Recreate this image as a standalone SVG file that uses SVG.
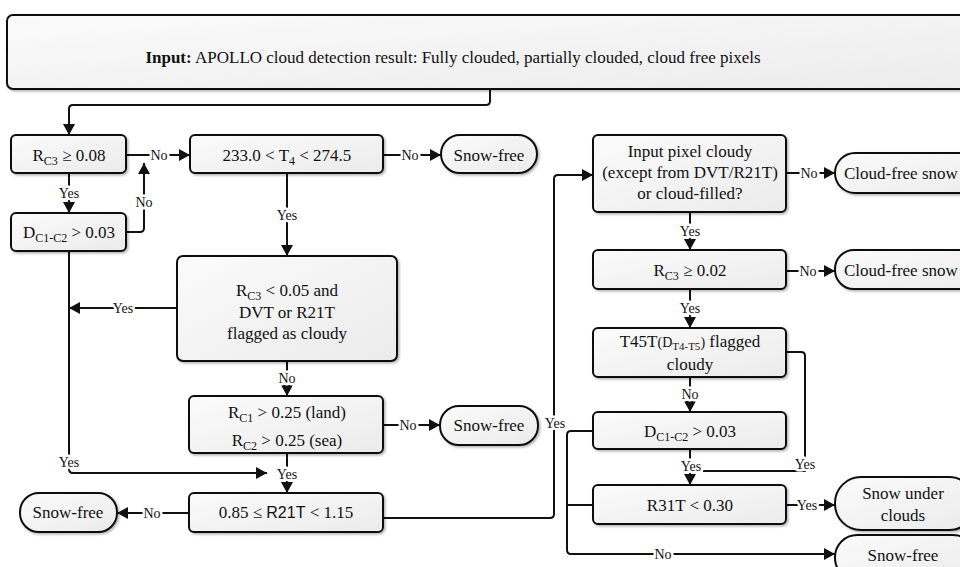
<svg xmlns="http://www.w3.org/2000/svg" width="960" height="567" viewBox="0 0 960 567">
<defs>
<linearGradient id="g" x1="0" y1="0" x2="1" y2="1">
<stop offset="0" stop-color="#fbfbfb"/>
<stop offset="1" stop-color="#ebebeb"/>
</linearGradient>
<filter id="sh" x="-5%" y="-5%" width="110%" height="120%">
<feDropShadow dx="1.5" dy="1.5" stdDeviation="1" flood-color="#000" flood-opacity="0.3"/>
</filter>
<marker id="ar" markerUnits="userSpaceOnUse" markerWidth="12" markerHeight="12" refX="11" refY="6" orient="auto">
<path d="M0,0 L11,6 L0,12 z" fill="#111"/>
</marker>
</defs>
<style>
.box{fill:url(#g);stroke:#111;stroke-width:2;filter:url(#sh)}
.t{font-family:"Liberation Serif","Times New Roman",serif;font-size:17px;fill:#111;text-anchor:middle}
.ts{text-anchor:start}
.sub{font-size:12px}
.sans{font-family:"Liberation Sans",Arial,sans-serif;font-size:16px}
.c{fill:none;stroke:#111;stroke-width:2}
.lbl{font-family:"Liberation Serif","Times New Roman",serif;font-size:14px;fill:#111;text-anchor:middle;dominant-baseline:central;stroke:#fff;stroke-width:5;paint-order:stroke;stroke-linejoin:round}
</style>
<rect width="960" height="567" fill="#fff"/>

<g id="connectors">
<path class="c" d="M490,89 V101 Q490,105 486,105 H73 Q69,105 69,109 V135" marker-end="url(#ar)"/>
<path class="c" d="M126,155 H190" marker-end="url(#ar)"/>
<path class="c" d="M69,173 V213" marker-end="url(#ar)"/>
<path class="c" d="M126,232 H140 Q144,232 144,228 V163" marker-end="url(#ar)"/>
<path class="c" d="M383,155 H441" marker-end="url(#ar)"/>
<path class="c" d="M287,173 V256" marker-end="url(#ar)"/>
<path class="c" d="M177,308 H69" marker-end="url(#ar)"/>
<path class="c" d="M69,251 V469 Q69,473 73,473 H267" marker-end="url(#ar)"/>
<path class="c" d="M287,361 V396" marker-end="url(#ar)"/>
<path class="c" d="M383,425 H440" marker-end="url(#ar)"/>
<path class="c" d="M287,453 V493" marker-end="url(#ar)"/>
<path class="c" d="M189,513 H117" marker-end="url(#ar)"/>
<path class="c" d="M383,518 H550 Q554,518 554,514 V179 Q554,175 558,175 H593" marker-end="url(#ar)"/>
<path class="c" d="M786,173 H835" marker-end="url(#ar)"/>
<path class="c" d="M690,212 V250" marker-end="url(#ar)"/>
<path class="c" d="M786,271 H835" marker-end="url(#ar)"/>
<path class="c" d="M690,289 V328" marker-end="url(#ar)"/>
<path class="c" d="M690,377 V412" marker-end="url(#ar)"/>
<path class="c" d="M786,352 H801 Q805,352 805,356 V471 H703"/>
<path class="c" d="M690,449 V485" marker-end="url(#ar)"/>
<path class="c" d="M593,431 H571 Q567,431 567,435 V550 Q567,554 571,554 H835" marker-end="url(#ar)"/>
<path class="c" d="M593,505 H567"/>
<path class="c" d="M786,505 H835" marker-end="url(#ar)"/>
<text class="lbl" x="159" y="155">No</text>
<text class="lbl" x="69" y="193">Yes</text>
<text class="lbl" x="144" y="202">No</text>
<text class="lbl" x="410" y="155">No</text>
<text class="lbl" x="287" y="215">Yes</text>
<text class="lbl" x="123" y="308">Yes</text>
<text class="lbl" x="69" y="462">Yes</text>
<text class="lbl" x="287" y="378">No</text>
<text class="lbl" x="408" y="425">No</text>
<text class="lbl" x="287" y="474">Yes</text>
<text class="lbl" x="152" y="513">No</text>
<text class="lbl" x="555" y="423">Yes</text>
<text class="lbl" x="809" y="173">No</text>
<text class="lbl" x="690" y="231">Yes</text>
<text class="lbl" x="808" y="271">No</text>
<text class="lbl" x="690" y="308">Yes</text>
<text class="lbl" x="690" y="394">No</text>
<text class="lbl" x="805" y="464">Yes</text>
<text class="lbl" x="691" y="466">Yes</text>
<text class="lbl" x="663" y="554">No</text>
<text class="lbl" x="807" y="505">Yes</text>
</g>

<g id="input">
<rect class="box" x="7" y="15" width="990" height="74" rx="6"/>
<text class="t" x="453" y="63"><tspan font-weight="bold">Input:</tspan>  APOLLO cloud detection result: Fully clouded, partially clouded, cloud free pixels</text>
</g>

<g id="n1">
<rect class="box" x="11" y="135" width="115" height="38" rx="5"/>
<text class="t" x="69" y="161">R<tspan class="sub" dy="4">C3</tspan><tspan dy="-4"> ≥ 0.08</tspan></text>
</g>
<g id="n2">
<rect class="box" x="11" y="213" width="115" height="38" rx="5"/>
<text class="t" x="69" y="238">D<tspan class="sub" dy="4">C1-C2</tspan><tspan dy="-4"> &gt; 0.03</tspan></text>
</g>
<g id="n3">
<rect class="box" x="190" y="135" width="193" height="38" rx="5"/>
<text class="t" x="287" y="161">233.0 &lt; T<tspan class="sub" dy="4">4</tspan><tspan dy="-4"> &lt; 274.5</tspan></text>
</g>
<g id="sf1">
<rect class="box" x="441" y="135" width="96" height="38" rx="19"/>
<text class="t" x="489" y="161">Snow-free</text>
</g>
<g id="n4">
<rect class="box" x="177" y="256" width="220" height="105" rx="6"/>
<text class="t" x="287" y="296">R<tspan class="sub" dy="4">C3</tspan><tspan dy="-4"> &lt; 0.05 and</tspan></text>
<text class="t" x="287" y="318">DVT or R21T</text>
<text class="t" x="287" y="339">flagged as cloudy</text>
</g>
<g id="n5">
<rect class="box" x="189" y="396" width="194" height="57" rx="5"/>
<text class="t" x="287" y="418">R<tspan class="sub" dy="4">C1</tspan><tspan dy="-4"> &gt; 0.25 (land)</tspan></text>
<text class="t" x="287" y="446">R<tspan class="sub" dy="4">C2</tspan><tspan dy="-4"> &gt; 0.25 (sea)</tspan></text>
</g>
<g id="sf2">
<rect class="box" x="440" y="406" width="98" height="39" rx="19"/>
<text class="t" x="489" y="431">Snow-free</text>
</g>
<g id="n6">
<rect class="box" x="189" y="493" width="194" height="39" rx="5"/>
<text class="t" x="286" y="518">0.85 ≤ <tspan class="sans">R21T</tspan> &lt; 1.15</text>
</g>
<g id="sf3">
<rect class="box" x="20" y="493" width="97" height="39" rx="19"/>
<text class="t" x="68" y="518">Snow-free</text>
</g>
<g id="n7">
<rect class="box" x="593" y="135" width="193" height="77" rx="5"/>
<text class="t" x="690" y="157">Input pixel cloudy</text>
<text class="t" x="690" y="178">(except from DVT/R21T)</text>
<text class="t" x="690" y="199">or cloud-filled?</text>
</g>
<g id="cfs1">
<rect class="box" x="835" y="153" width="170" height="40" rx="20"/>
<text class="t ts" x="844" y="179">Cloud-free snow</text>
</g>
<g id="n8">
<rect class="box" x="593" y="250" width="193" height="39" rx="5"/>
<text class="t" x="690" y="276">R<tspan class="sub" dy="4">C3</tspan><tspan dy="-4"> ≥ 0.02</tspan></text>
</g>
<g id="cfs2">
<rect class="box" x="835" y="250" width="170" height="39" rx="19"/>
<text class="t ts" x="844" y="276">Cloud-free snow</text>
</g>
<g id="n9">
<rect class="box" x="593" y="328" width="193" height="49" rx="5"/>
<text class="t" x="690" y="347">T45T<tspan font-size="14px">(D</tspan><tspan font-size="11px" dy="3">T4-T5</tspan><tspan font-size="14px" dy="-3">)</tspan> flagged</text>
<text class="t" x="690" y="370">cloudy</text>
</g>
<g id="n10">
<rect class="box" x="593" y="412" width="193" height="37" rx="5"/>
<text class="t" x="690" y="437">D<tspan class="sub" dy="4">C1-C2</tspan><tspan dy="-4"> &gt; 0.03</tspan></text>
</g>
<g id="n11">
<rect class="box" x="593" y="485" width="193" height="39" rx="5"/>
<text class="t" x="690" y="511">R31T &lt; 0.30</text>
</g>
<g id="sfc">
<rect class="box" x="835" y="477" width="140" height="53" rx="26"/>
<text class="t" x="903" y="499">Snow under</text>
<text class="t" x="903" y="521">clouds</text>
</g>
<g id="sf4">
<rect class="box" x="835" y="535" width="140" height="45" rx="22"/>
<text class="t" x="903" y="561">Snow-free</text>
</g>
</svg>
